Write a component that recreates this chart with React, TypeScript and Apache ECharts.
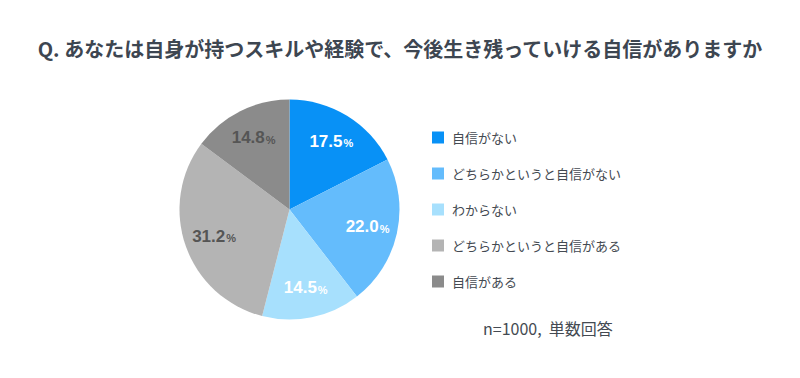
import React, { useEffect, useRef } from "react";
import * as echarts from "echarts";

const title = "Q. あなたは自身が持つスキルや経験で、今後生き残っていける自信がありますか";
const categories = ["自信がない", "どちらかというと自信がない", "わからない", "どちらかというと自信がある", "自信がある"];
const values = [17.5, 22.0, 14.5, 31.2, 14.8];
const colors = ["#0891f6", "#64bcfc", "#a7e0fd", "#b4b4b4", "#8b8b8b"];
const labelColors = ["#ffffff", "#ffffff", "#ffffff", "#555555", "#555555"];
const note = "n=1000,  単数回答";

const FONT = "'Noto Sans CJK JP', 'Noto Sans', sans-serif";
const NUMFONT = "'Liberation Sans', Arial, sans-serif";

export default function App() {
  const ref = useRef<HTMLDivElement>(null);
  useEffect(() => {
    if (!ref.current) return;
    const chart = echarts.init(ref.current, null, { renderer: "svg" });
    const data = categories.map((name, i) => ({
      name,
      value: values[i],
      itemStyle: { color: colors[i] },
    }));
    const labelData = categories.map((name, i) => ({
      name,
      value: values[i],
      itemStyle: { color: "rgba(0,0,0,0)" },
      label: {
        formatter: `{n|${values[i].toFixed(1)}}{p|%}`,
        rich: {
          n: { fontSize: 17, fontWeight: "bold", color: labelColors[i], fontFamily: NUMFONT },
          p: { fontSize: 11, fontWeight: "bold", color: labelColors[i], fontFamily: NUMFONT, padding: [4, 0, 0, 1] },
        },
      },
    }));
    chart.setOption({
      animation: false,
      textStyle: { fontFamily: FONT },
      title: {
        text: title,
        left: "center",
        top: 33,
        textStyle: { fontSize: 20, fontWeight: "bold", color: "#3d4651", fontFamily: FONT },
      },
      legend: {
        orient: "vertical",
        left: 427,
        top: 126,
        itemWidth: 12,
        itemHeight: 12,
        itemGap: 23,
        icon: "rect",
        data: categories,
        textStyle: { fontSize: 13, color: "#444a52", fontFamily: FONT, padding: [0, 0, 0, 3] },
      },
      graphic: [
        {
          type: "text",
          left: 483,
          top: 320,
          style: { text: note, fontSize: 16, fill: "#444a52", fontFamily: FONT },
        },
      ],
      series: [
        {
          type: "pie",
          center: [289.5, 209.5],
          radius: [0, 110],
          startAngle: 90,
          clockwise: true,
          label: { show: false },
          labelLine: { show: false },
          data,
          silent: true,
        },
        {
          type: "pie",
          center: [289.5, 209.5],
          radius: [44, 110],
          startAngle: 90,
          clockwise: true,
          label: { show: true, position: "inside" },
          labelLine: { show: false },
          data: labelData,
          silent: true,
          legendHoverLink: false,
        },
      ],
    });
    return () => chart.dispose();
  }, []);
  return <div ref={ref} style={{ position: "fixed", left: 0, top: 0, width: 800, height: 378, background: "#fff" }} />;
}
